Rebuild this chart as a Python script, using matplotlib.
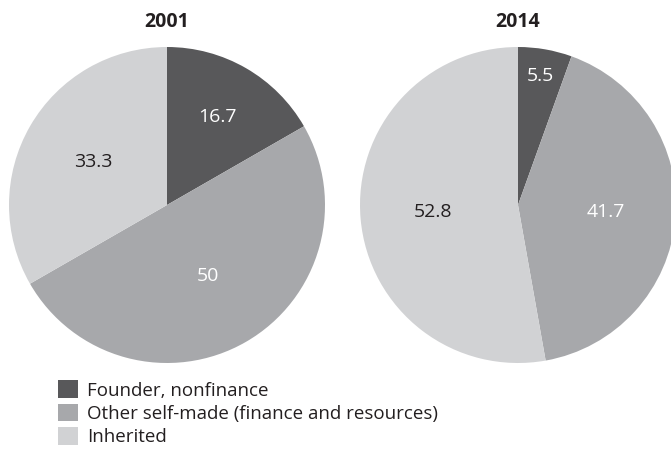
import numpy as np
import matplotlib.pyplot as plt

plt.rcParams['font.family'] = ['Open Sans', 'DejaVu Sans']

categories = ['Founder, nonfinance', 'Other self-made (finance and resources)', 'Inherited']
years = ['2001', '2014']
shares_2001 = [16.7, 50, 33.3]
shares_2014 = [5.5, 41.7, 52.8]

colors = ['#58585a', '#a7a8ab', '#d1d2d4']
text_colors = ['white', 'white', '#231f20']

W, H = 671, 449
fig = plt.figure(figsize=(W / 100, H / 100), dpi=100)

R = 158
centers = [(167, 205), (518, 205)]
label_dist = [[0.64, 0.52, 0.54], [0.83, 0.56, 0.54]]

wedges_all = []
for (cx, cy), year, vals, ld in zip(centers, years, [shares_2001, shares_2014], label_dist):
    ax = fig.add_axes([(cx - R) / W, (H - cy - R) / H, 2 * R / W, 2 * R / H])
    wedges, _ = ax.pie(vals, colors=colors, startangle=90, counterclock=False,
                       wedgeprops=dict(linewidth=0))
    wedges_all = wedges
    # value labels inside each slice
    for w, v, d, tc in zip(wedges, vals, ld, text_colors):
        ang = np.deg2rad((w.theta1 + w.theta2) / 2)
        ax.text(d * np.cos(ang), d * np.sin(ang), f'{v:g}', ha='center', va='center',
                fontsize=14, color=tc)
    ax.set_xlim(-1, 1)
    ax.set_ylim(-1, 1)
    ax.set_aspect('equal')
    ax.axis('off')
    fig.text(cx / W, 1 - 22 / H, year, ha='center', va='center', fontsize=14,
             fontweight='bold', color='#231f20')

fig.legend(wedges_all, categories, loc='upper left', bbox_to_anchor=(49 / W, 1 - 371 / H),
           frameon=False, fontsize=13.5, handlelength=1.07, handleheight=1.07,
           handletextpad=0.45, labelspacing=0.22, borderpad=0, labelcolor='#231f20')

fig.savefig('out.png', dpi=100)
